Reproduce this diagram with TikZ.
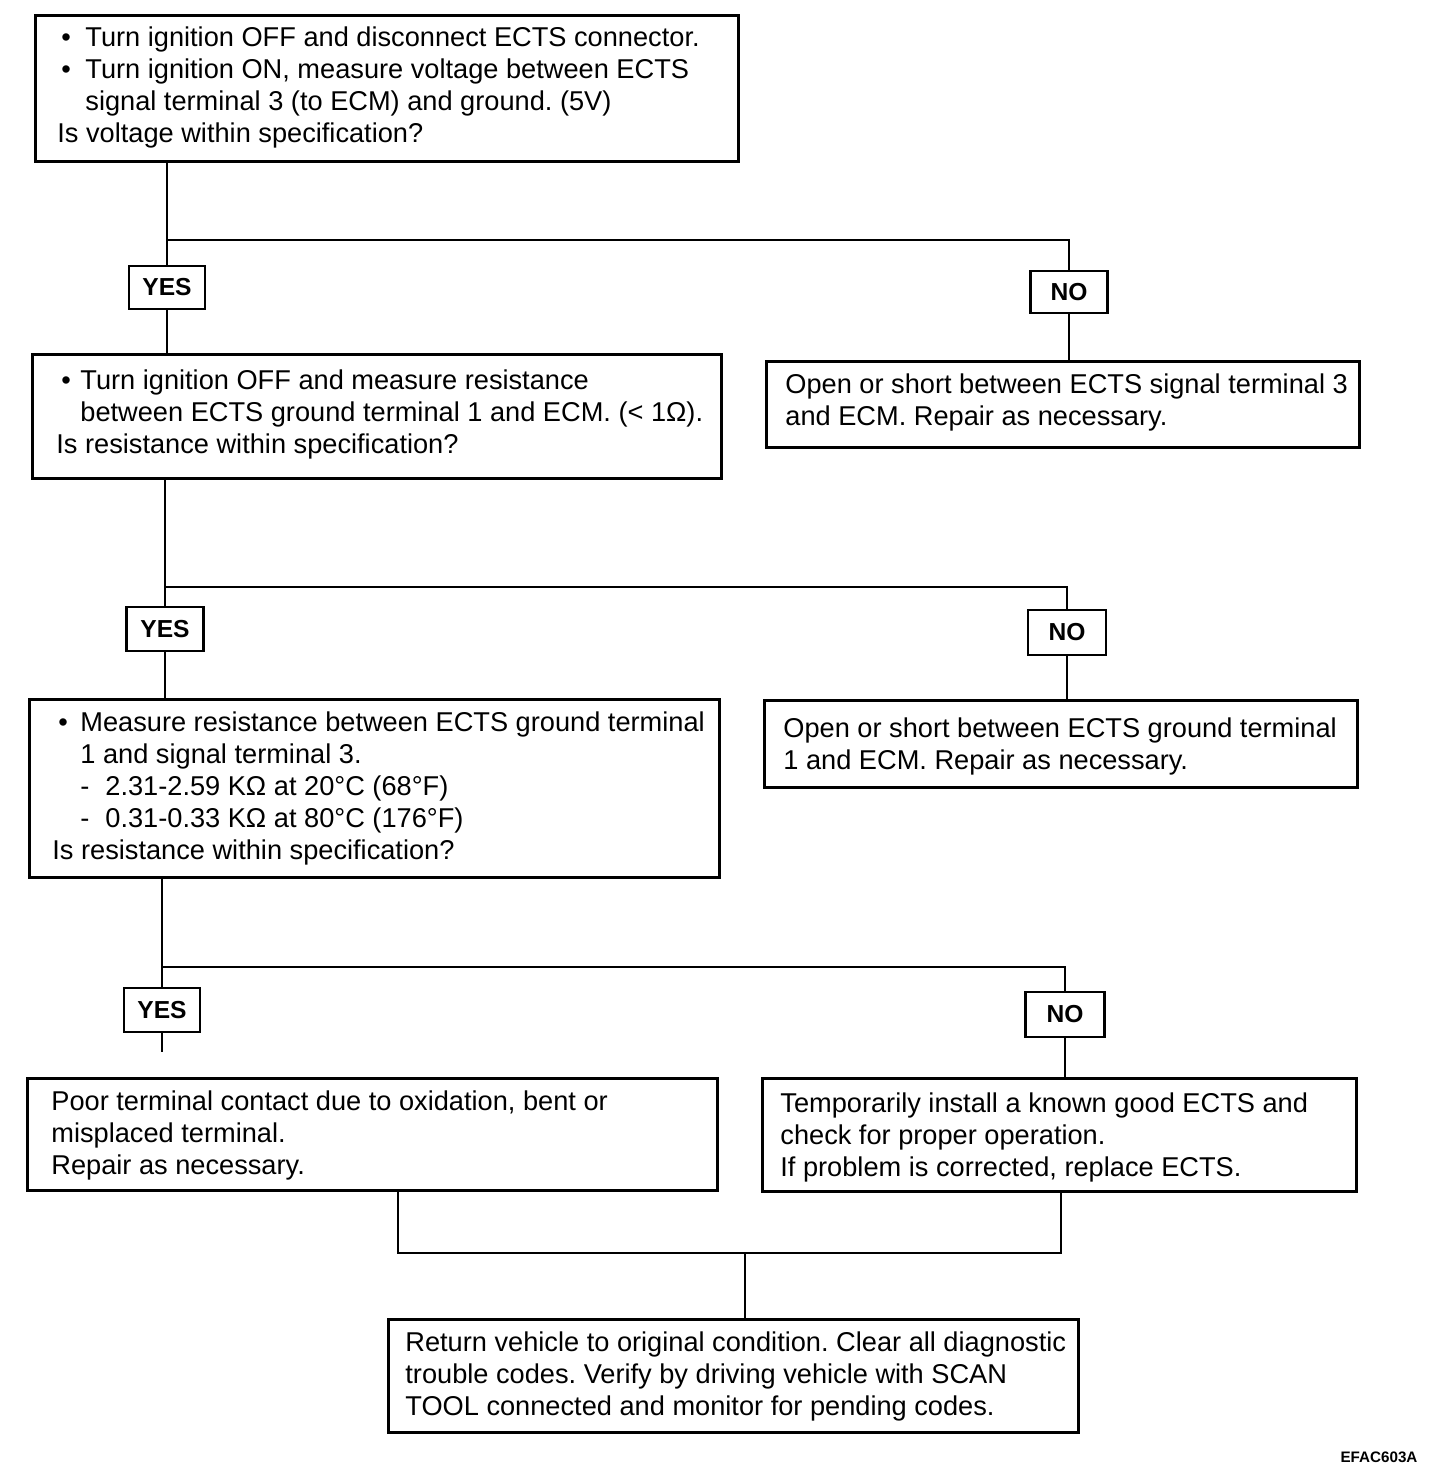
\documentclass[tikz,border=0pt]{standalone}
\usepackage{fontspec}
\setmainfont{Liberation Sans}
\frenchspacing
\begin{document}
\begin{tikzpicture}[x=0.5pt,y=-0.5pt,
  box/.style={draw, line width=1.3pt, rectangle, inner sep=0pt, anchor=north west},
  lbl/.style={draw, line width=1.3pt, rectangle, inner sep=0pt, font=\bfseries\fontsize{12.3pt}{14pt}\selectfont},
  txt/.style={inner sep=0pt, anchor=north west, align=left, font=\fontsize{13.6pt}{16pt}\selectfont},
  con/.style={line width=1.2pt}]
\useasboundingbox (0,0) rectangle (1456,1484);
% boxes
\node[box, minimum width=351.5pt, minimum height=73pt] (b1) at (34,14) {};
\node[box, minimum width=296.5pt, minimum height=43pt] (r1) at (765,360) {};
\node[box, minimum width=344.5pt, minimum height=62pt] (b2) at (31,353) {};
\node[box, minimum width=296.5pt, minimum height=43.5pt] (r2) at (763,699) {};
\node[box, minimum width=345pt, minimum height=89pt] (b3) at (28,698) {};
\node[box, minimum width=345pt, minimum height=56pt] (b4l) at (26,1077) {};
\node[box, minimum width=297pt, minimum height=56.5pt] (b4r) at (761,1077) {};
\node[box, minimum width=345pt, minimum height=56.5pt] (b5) at (387,1318) {};
% texts
\node[txt] (t1) at (57,26) {\hspace*{2pt}\makebox[12pt][l]{\textbullet}Turn ignition OFF and disconnect ECTS connector.\\
\hspace*{2pt}\makebox[12pt][l]{\textbullet}Turn ignition ON, measure voltage between ECTS\\
\hspace*{14pt}signal terminal 3 (to ECM) and ground. (5V)\\
Is voltage within specification?};
\node[txt] (t2) at (56,369) {\hspace*{2.5pt}\makebox[9.5pt][l]{\textbullet}Turn ignition OFF and measure resistance\\
\hspace*{12pt}between ECTS ground terminal 1 and ECM. (< 1Ω).\\
Is resistance within specification?};
\node[txt] (t3) at (52,711) {\hspace*{3pt}\makebox[11pt][l]{\textbullet}Measure resistance between ECTS ground terminal\\
\hspace*{14pt}1 and signal terminal 3.\\
\hspace*{14pt}\makebox[12.5pt][l]{-}2.31-2.59 KΩ at 20°C (68°F)\\
\hspace*{14pt}\makebox[12.5pt][l]{-}0.31-0.33 KΩ at 80°C (176°F)\\
Is resistance within specification?};
\node[txt] (t4) at (785,373) {Open or short between ECTS signal terminal 3\\
and ECM. Repair as necessary.};
\node[txt] (t5) at (783,717) {Open or short between ECTS ground terminal\\
1 and ECM. Repair as necessary.};
\node[txt] (t6) at (51,1090) {Poor terminal contact due to oxidation, bent or\\
misplaced terminal.\\
Repair as necessary.};
\node[txt] (t7) at (780,1092) {Temporarily install a known good ECTS and\\
check for proper operation.\\
If problem is corrected, replace ECTS.};
\node[txt] (t8) at (405,1331) {Return vehicle to original condition. Clear all diagnostic\\
trouble codes. Verify by driving vehicle with SCAN\\
TOOL connected and monitor for pending codes.};
% labels
\node[lbl, minimum width=38pt, minimum height=21.5pt] (yes1) at (167,287.5) {YES};
\node[lbl, minimum width=38.5pt, minimum height=21pt] (no1) at (1069,292) {NO};
\node[lbl, minimum width=38.5pt, minimum height=22pt] (yes2) at (165,629) {YES};
\node[lbl, minimum width=39pt, minimum height=22.5pt] (no2) at (1067,632.5) {NO};
\node[lbl, minimum width=38pt, minimum height=22pt] (yes3) at (162,1010) {YES};
\node[lbl, minimum width=39.5pt, minimum height=22.5pt] (no3) at (1065,1014.5) {NO};
\node[font=\bfseries\fontsize{7.6pt}{9pt}\selectfont, inner sep=0pt] (code) at (1379,1457) {EFAC603A};
% junctions
\coordinate (j1) at (167,240);
\coordinate (j2) at (165,587);
\coordinate (j3) at (162,967);
\coordinate (e3) at (162,1052);
\coordinate (m1) at (398,1253);
\coordinate (m2) at (1061,1253);
\coordinate (m3) at (745,1253);
% connectors
\draw[con] (j1 |- b1.south) -- (yes1.north);
\draw[con] (j1) -| (no1.north);
\draw[con] (yes1.south) -- (yes1.south |- b2.north);
\draw[con] (no1.south) -- (no1.south |- r1.north);
\draw[con] (j2 |- b2.south) -- (yes2.north);
\draw[con] (j2) -| (no2.north);
\draw[con] (yes2.south) -- (yes2.south |- b3.north);
\draw[con] (no2.south) -- (no2.south |- r2.north);
\draw[con] (j3 |- b3.south) -- (yes3.north);
\draw[con] (j3) -| (no3.north);
\draw[con] (yes3.south) -- (e3);
\draw[con] (no3.south) -- (no3.south |- b4r.north);
\draw[con] (m1 |- b4l.south) -- (m1) -- (m2) -- (m2 |- b4r.south);
\draw[con] (m3) -- (m3 |- b5.north);
\end{tikzpicture}
\end{document}
